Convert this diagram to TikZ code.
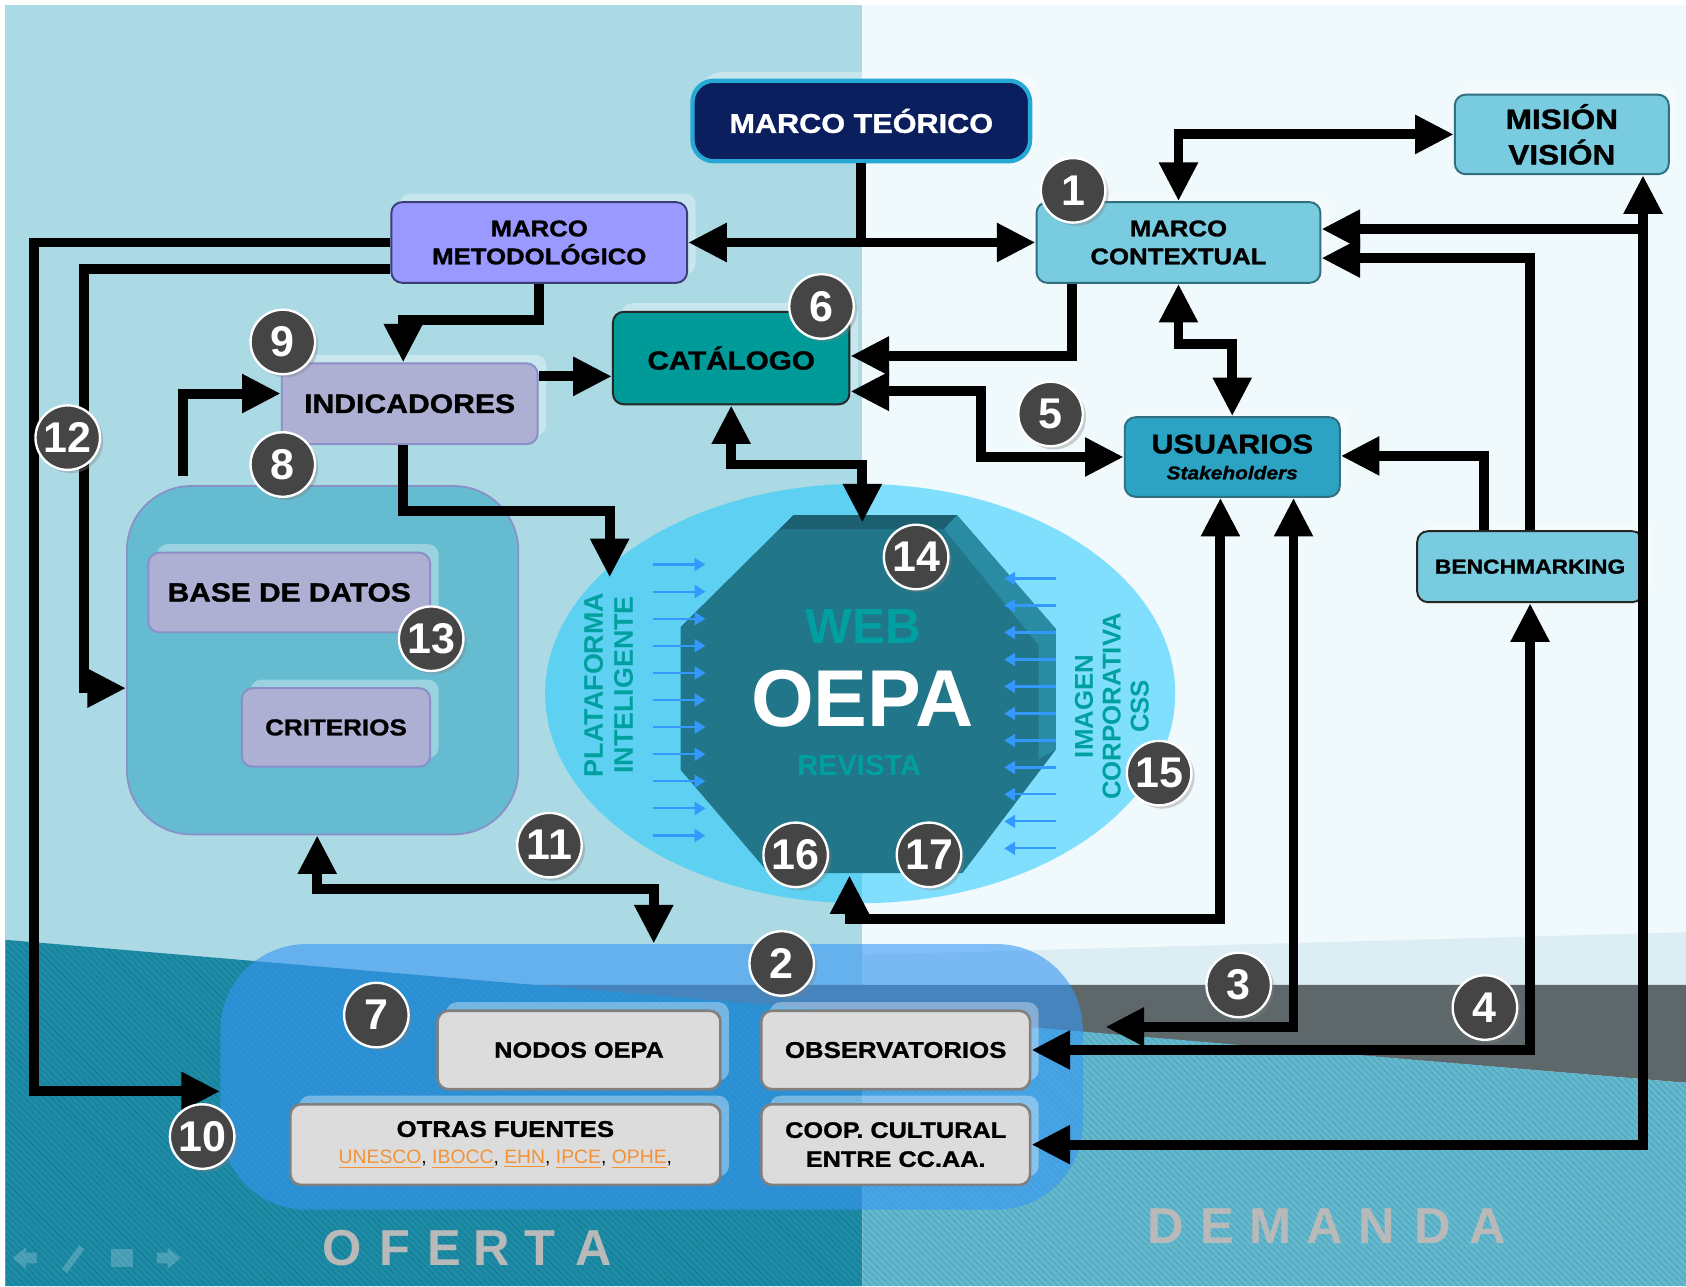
\documentclass[tikz,border=0pt]{standalone}
\usepackage{fontspec}
\setmainfont{Liberation Sans}
\newfontfamily\widefont{Liberation Sans}[FakeStretch=1.13, FakeBold=1.2]
\usetikzlibrary{arrows.meta, shadows, patterns}

\definecolor{panelL}{HTML}{ABD9E4}
\definecolor{panelR}{HTML}{F0F9FC}
\definecolor{bandL}{HTML}{DCEEF4}
\definecolor{bandG}{HTML}{5E686B}
\definecolor{seaL}{HTML}{1D8CA7}
\definecolor{seaR}{HTML}{62B9CF}
\definecolor{navy}{HTML}{0B1F5E}
\definecolor{navyrim}{HTML}{27A9D6}
\definecolor{sky}{HTML}{79CBE0}
\definecolor{skyrim}{HTML}{2F6F80}
\definecolor{usufill}{HTML}{2CA3C2}
\definecolor{catfill}{HTML}{009A99}
\definecolor{metfill}{HTML}{9999FF}
\definecolor{metrim}{HTML}{3C3C78}
\definecolor{lilac}{HTML}{ADB0D3}
\definecolor{lilacrim}{HTML}{8A8FC8}
\definecolor{dbfill}{HTML}{65BBD0}
\definecolor{greybox}{HTML}{DCDCDC}
\definecolor{grouphue}{RGB}{54,151,245}
\definecolor{halo}{RGB}{25,200,255}
\definecolor{octa}{HTML}{217689}
\definecolor{octdark}{HTML}{1B5F70}
\definecolor{octlight}{HTML}{2A8CA3}
\definecolor{tealtxt}{HTML}{00A0A0}
\definecolor{flow}{HTML}{3399FF}
\definecolor{badgegray}{HTML}{454545}
\definecolor{linkorange}{HTML}{F39237}
\definecolor{ghosttxt}{HTML}{B9B9B9}

\newcommand{\bxf}[2]{\widefont\bfseries\fontsize{#1}{#2}\selectfont}
\newcommand{\lk}[1]{{\color{linkorange}\underline{#1}}}

\begin{document}
\begin{tikzpicture}[x=0.5pt, y=-0.5pt,
    box/.style={draw, rounded corners=5pt, line width=0.9pt, align=center, inner sep=0pt,
        general shadow={fill=white, opacity=0.35, shadow xshift=4pt, shadow yshift=4pt}},
    badge/.style={circle, fill=badgegray, draw=white, line width=1.1pt, minimum size=30pt,
        inner sep=0pt, text=white, font=\bfseries\fontsize{20}{20}\selectfont,
        drop shadow={shadow xshift=1.5pt, shadow yshift=-1.5pt, opacity=0.35}},
    bar/.style={line width=4.6pt},
    link/.style={bar, -{Triangle[length=18pt, width=17pt]}},
    twoway/.style={bar, {Triangle[length=18pt, width=17pt]}-{Triangle[length=18pt, width=17pt]}},
    flowarrow/.style={flow, line width=1pt, -{Triangle[length=5pt, width=6pt]}},
    bigletter/.style={text=ghosttxt, font=\bfseries\fontsize{23.5}{24}\selectfont}]

    \useasboundingbox (0,0) rectangle (1568,1196);

    % 背景
    \fill[white] (0,0) rectangle (1568,1196);
    \fill[panelL] (5,5) rectangle (802,1196);
    \fill[panelR] (802,5) rectangle (1568,1196);
    \fill[bandL] (802,888) -- (1568,867) -- (1568,916) -- (802,916) -- cycle;
    \fill[bandG] (480,916) -- (1568,916) -- (1568,1007) -- cycle;
    \fill[seaL] (5,874) -- (802,942) -- (802,1196) -- (5,1196) -- cycle;
    \fill[seaR] (802,942) -- (1568,1007) -- (1568,1196) -- (802,1196) -- cycle;
    \fill[pattern=north west lines, pattern color=black, opacity=0.12]
        (5,874) -- (1568,1007) -- (1568,1196) -- (5,1196) -- cycle;

    % 底部图标
    \begin{scope}[fill=white, opacity=0.2]
        \fill (12,1170) -- (24,1160) -- (24,1165) -- (34,1165) -- (34,1175) -- (24,1175) -- (24,1180) -- cycle;
        \draw[white, line width=3pt] (60,1182) -- (76,1160);
        \fill (103,1162) rectangle (124,1178);
        \fill (168,1170) -- (156,1160) -- (156,1165) -- (146,1165) -- (146,1175) -- (156,1175) -- (156,1180) -- cycle;
    \end{scope}

    % OFERTA / DEMANDA
    \foreach \ch/\cx [count=\i] in {O/318,F/367,E/413,R/457,T/502,A/552}
        \node[bigletter] (ofe\i) at (\cx,1161) {\ch};
    \foreach \ch/\cx [count=\i] in {D/1084,E/1132,M/1182,A/1232,N/1280,D/1332,A/1384}
        \node[bigletter] (dem\i) at (\cx,1140) {\ch};

    % 底部分组
    \node[fill=grouphue, fill opacity=0.6, rounded corners=40pt, minimum width=401pt,
        minimum height=123.5pt, inner sep=0pt] (grp) at (606,1001.5) {};

    % 椭圆与八边形
    \fill[halo, opacity=0.52] (800,645) ellipse [x radius=146.5pt, y radius=97.5pt];
    \fill[octa] (633,583) -- (738,479) -- (890,479) -- (982,585) -- (982,697)
        -- (895,812) -- (715,812) -- (633,716) -- cycle;
    \fill[octdark] (738,479) -- (890,479) -- (878,492) -- (725,492) -- cycle;
    \fill[octlight] (890,479) -- (982,585) -- (982,697) -- (966,706) -- (966,600) -- (878,492) -- cycle;
    \coordinate (octN) at (802,486);
    \coordinate (octS) at (790,814);

    \foreach \k in {0,...,10}
        \draw[flowarrow] (607,{525+25.2*\k}) -- (656,{525+25.2*\k});
    \foreach \k in {0,...,10}
        \draw[flowarrow] (982,{538+25.1*\k}) -- (934,{538+25.1*\k});

    \node[text=tealtxt, font=\bfseries\fontsize{23}{23}\selectfont] (web) at (803,583) {WEB};
    \node[text=white, font=\bfseries\fontsize{37.5}{38}\selectfont] (oepa) at (802,650) {OEPA};
    \node[text=tealtxt, font=\bfseries\fontsize{13.5}{14}\selectfont] (rev) at (799,712) {REVISTA};
    \node[rotate=90, align=center, text=tealtxt, font=\bfseries\fontsize{12.5}{14}\selectfont]
        (plat) at (566,637) {PLATAFORMA\\INTELIGENTE};
    \node[rotate=90, align=center, text=tealtxt, font=\bfseries\fontsize{12}{13}\selectfont]
        (imagen) at (1034,657) {IMAGEN\\CORPORATIVA\\CSS};

    % 方框
    \node[box, fill=navy, draw=navyrim, line width=2pt, rounded corners=10pt, minimum width=157pt,
        minimum height=37.5pt, text=white, font=\bxf{12.6}{15}] (teo) at (801,112.5) {MARCO TEÓRICO};
    \node[box, fill=sky, draw=skyrim, minimum width=99.5pt, minimum height=37pt,
        font=\bxf{13}{16.5}] (mis) at (1452.5,125) {MISIÓN\\VISIÓN};
    \node[box, fill=metfill, draw=metrim, minimum width=137.5pt, minimum height=37.5pt,
        font=\bxf{10.6}{13}] (met) at (501.5,225.5) {MARCO\\METODOLÓGICO};
    \node[box, fill=sky, draw=skyrim, minimum width=132pt, minimum height=37.5pt,
        font=\bxf{10.6}{13}] (ctx) at (1096,225.5) {MARCO\\CONTEXTUAL};
    \node[box, fill=catfill, draw=black!85, minimum width=110pt, minimum height=43pt,
        font=\bxf{12.2}{14}] (cat) at (680,333) {CATÁLOGO};
    \node[box, fill=lilac, draw=lilacrim, minimum width=119pt, minimum height=37.5pt,
        font=\bxf{12.4}{14}] (ind) at (381,375.5) {INDICADORES};
    \node[box, fill=usufill, draw=skyrim, minimum width=100pt, minimum height=37pt,
        font=\bxf{12.6}{13}] (usu) at (1146,425)
        {USUARIOS\\[-1pt]{\fontsize{8.6}{10}\selectfont\itshape Stakeholders}};
    \node[box, fill=sky, draw=black!85, minimum width=105pt, minimum height=33pt,
        font=\bxf{9.4}{11}] (ben) at (1423,527) {BENCHMARKING};

    % 数据库分组
    \node[draw=lilacrim, fill=dbfill, line width=0.8pt, rounded corners=30pt, minimum width=182pt,
        minimum height=162pt, inner sep=0pt] (db) at (300,614) {};
    \node[box, fill=lilac, draw=lilacrim, minimum width=131pt, minimum height=37pt,
        font=\bxf{12.3}{14}] (bdd) at (269,551) {BASE DE DATOS};
    \node[box, fill=lilac, draw=lilacrim, minimum width=87.5pt, minimum height=36.5pt,
        font=\bxf{10.7}{13}] (cri) at (312.5,676.5) {CRITERIOS};

    % 底部方框
    \node[box, fill=greybox, draw=black!50, line width=1.2pt, minimum width=131.5pt,
        minimum height=36.5pt, font=\bxf{10.4}{13}] (nod) at (538.5,976.5) {NODOS OEPA};
    \node[box, fill=greybox, draw=black!50, line width=1.2pt, minimum width=125pt,
        minimum height=36.5pt, font=\bxf{10.6}{13}] (obs) at (833,976.5) {OBSERVATORIOS};
    \node[box, fill=greybox, draw=black!50, line width=1.2pt, minimum width=200pt,
        minimum height=37.5pt, font=\bxf{10.6}{12.5}] (otr) at (470,1064.5)
        {OTRAS FUENTES\\{\normalfont\fontsize{9}{11}\selectfont
        \lk{UNESCO}, \lk{IBOCC}, \lk{EHN}, \lk{IPCE}, \lk{OPHE},}};
    \node[box, fill=greybox, draw=black!50, line width=1.2pt, minimum width=125pt,
        minimum height=37.5pt, font=\bxf{10.4}{13.5}] (coo) at (833,1064.5) {COOP. CULTURAL\\ENTRE CC.AA.};

    % 连线
    \coordinate (misBus) at (1528,213);
    \coordinate (obsTip) at (1028,955);
    \coordinate (platTip) at (567,537);
    \coordinate (dbTap) at (170,443);

    \draw[bar] (teo.south) -- (teo.south |- met.east);
    \draw[twoway] (met.east) -- (ctx.west);
    \draw[twoway] (ctx.north) |- (mis.west);
    \draw[twoway] (coo.east) -| (1528,0 |- mis.south);
    \draw[link] (misBus) -- (ctx.east |- misBus);
    \draw[link] (ben.north) |- (ctx.east |- 0,240);
    \draw[link] (1380,0 |- ben.north) |- (usu.east |- 0,424);
    \draw[twoway] (obs.east) -| (ben.south);
    \draw[twoway] (1203,0 |- usu.south) |- (obsTip);
    \draw[twoway] (1135,0 |- usu.south) -- (1135,855) -| (octS);
    \draw[link] (997,0 |- ctx.south) |- (cat.east |- 0,331);
    \draw[twoway] (ctx.south) -- (ctx.south |- 0,320) -| (usu.north);
    \draw[twoway] (cat.east |- 0,364) -- (912,364) |- (usu.west);
    \draw[twoway] (cat.south) -- (cat.south |- 0,432) -| (octN);
    \draw[link] (met.south) -- (met.south |- 0,298) -| (375,0 |- ind.north);
    \draw[link] (ind.east |- 0,350) -- (cat.west |- 0,350);
    \draw[link] (375,0 |- ind.south) |- (567,475) -- (platTip);
    \draw[link] (dbTap) |- (ind.west |- 0,366);
    \draw[link] (met.west |- 0,250) -- (78,250) |- (db.west |- 0,640);
    \draw[link] (met.west) -- (32,225.5) |- (grp.west |- 0,1015);
    \draw[twoway] (295,0 |- db.south) -- (295,827) -| (608,0 |- grp.north);

    % 编号
    \foreach \n/\px/\py in {1/998/177, 2/727/896, 3/1152/916, 4/1381/937, 5/977/385,
        6/764/285, 7/350/944, 8/263/432, 9/263/318, 10/188/1057, 11/511/786, 12/63/407,
        13/401/594, 14/852/518, 15/1078/719, 16/740/795, 17/864/795}
        \node[badge] (b\n) at (\px,\py) {\n};

\end{tikzpicture}
\end{document}
